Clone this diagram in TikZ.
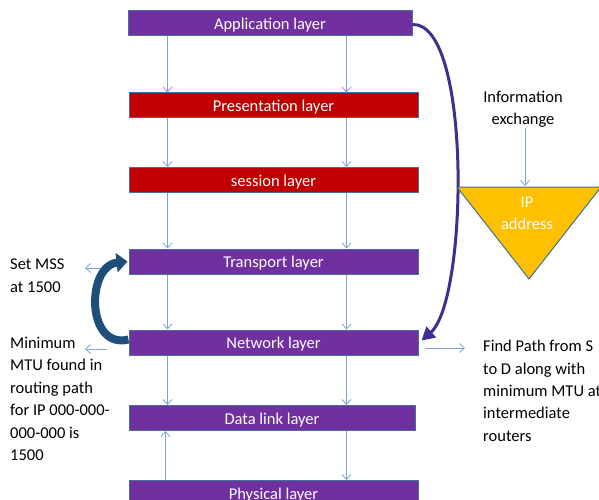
\documentclass[tikz,border=0pt]{standalone}
\usepackage{fontspec}
\setmainfont{Carlito}
\usetikzlibrary{arrows.meta,calc}
\definecolor{lpurple}{HTML}{7030A0}
\definecolor{lred}{HTML}{C00000}
\definecolor{bord}{HTML}{41719C}
\definecolor{thinb}{HTML}{7FA3D3}
\definecolor{gold}{HTML}{FFC000}
\definecolor{darkb}{HTML}{1F4E79}
\definecolor{arcp}{HTML}{3F2F8F}
\begin{document}
\begin{tikzpicture}[x=1pt,y=-1pt,
 layer/.style={draw=bord, line width=1pt, text=white, minimum height=25pt, inner sep=0pt, text height=14pt, text depth=2pt, font=\fontsize{16.5}{19}\selectfont},
 flow/.style={draw=thinb, line width=0.8pt, -{Straight Barb[length=5pt,width=9pt]}},
 note/.style={align=left, inner sep=0pt, font=\fontsize{16.5}{22.4}\selectfont, anchor=north west},
 centernote/.style={align=center, inner sep=0pt, font=\fontsize{16.5}{22.4}\selectfont}]
\useasboundingbox (0,0) rectangle (599,500);
% layers
\node[layer, fill=lpurple, minimum width=284pt] (app) at (270,23.5) {Application layer};
\node[layer, fill=lred, minimum width=289pt] (pres) at (273.5,105.5) {Presentation layer};
\node[layer, fill=lred, minimum width=289pt] (sess) at (273.5,180) {session layer};
\node[layer, fill=lpurple, minimum width=289pt] (trans) at (273.5,261.5) {Transport layer};
\node[layer, fill=lpurple, minimum width=289pt] (net) at (273.5,342.5) {Network layer};
\node[layer, fill=lpurple, minimum width=286pt] (dl) at (272,418) {Data link layer};
\node[layer, fill=lpurple, minimum width=289pt] (phys) at (273.5,493) {Physical layer};
% vertical flows
\draw[flow] ([xshift=40pt]app.south west) -- ([xshift=39pt]pres.north west);
\draw[flow] ([xshift=219pt]app.south west) -- ([xshift=218pt]pres.north west);
\foreach \a/\b in {pres/sess, sess/trans, trans/net, net/dl}{
  \draw[flow] ([xshift=39pt]\a.south west) -- ([xshift=39pt]\b.north west);
  \draw[flow] ([xshift=218pt]\a.south west) -- ([xshift=218pt]\b.north west);
}
\draw[flow] ([xshift=37pt]phys.north west) -- ([xshift=37pt]dl.south west);
\draw[flow] ([xshift=218pt]dl.south west) -- ([xshift=218pt]phys.north west);
% left notes
\node[note] (mss) at (10,259) {Set MSS\\at 1500};
\node[note] (mtu) at (10,337) {Minimum\\MTU found in\\routing path\\for IP 000-000-\\000-000 is\\1500};
\coordinate (mssa) at (107,268);
\coordinate (mssb) at (85,268);
\coordinate (mtua) at (107,349);
\coordinate (mtub) at (85,349);
\draw[flow] (mssa) -- (mssb);
\draw[flow] (mtua) -- (mtub);
% thick left curved arrow
\draw[darkb, line width=8pt, -{Triangle[length=11pt,width=19pt]}]
  ([yshift=3pt]net.west) .. controls (86,350) and (86,266) .. ([xshift=-1pt]trans.west);
% right notes
\node[note] (path) at (483,340) {Find Path from S\\to D along with\\minimum MTU at\\intermediate\\routers};
\coordinate (neta) at (425,348);
\coordinate (netb) at (465,348);
\draw[flow] (neta) -- (netb);
% right big curved arrow
\draw[arcp, line width=3pt, -{Triangle[length=13pt,width=14pt]}]
  ([yshift=-1pt]app.east) .. controls (472,22) and (468,300) .. ([xshift=3pt,yshift=2pt]net.east);
% IP triangle
\coordinate (tl) at (457,187);
\coordinate (tr) at (601,187);
\coordinate (tb) at (529,279);
\draw[fill=gold, draw=bord, line width=1pt] (tl) -- (tr) -- (tb) -- cycle;
\node[centernote, text=white] (ip) at (527,213) {IP\\address};
\node[centernote] (info) at (523,109) {Information\\exchange};
\coordinate (tritop) at (525,186);
\draw[flow] (info.south -| tritop) -- (tritop);
\end{tikzpicture}
\end{document}
